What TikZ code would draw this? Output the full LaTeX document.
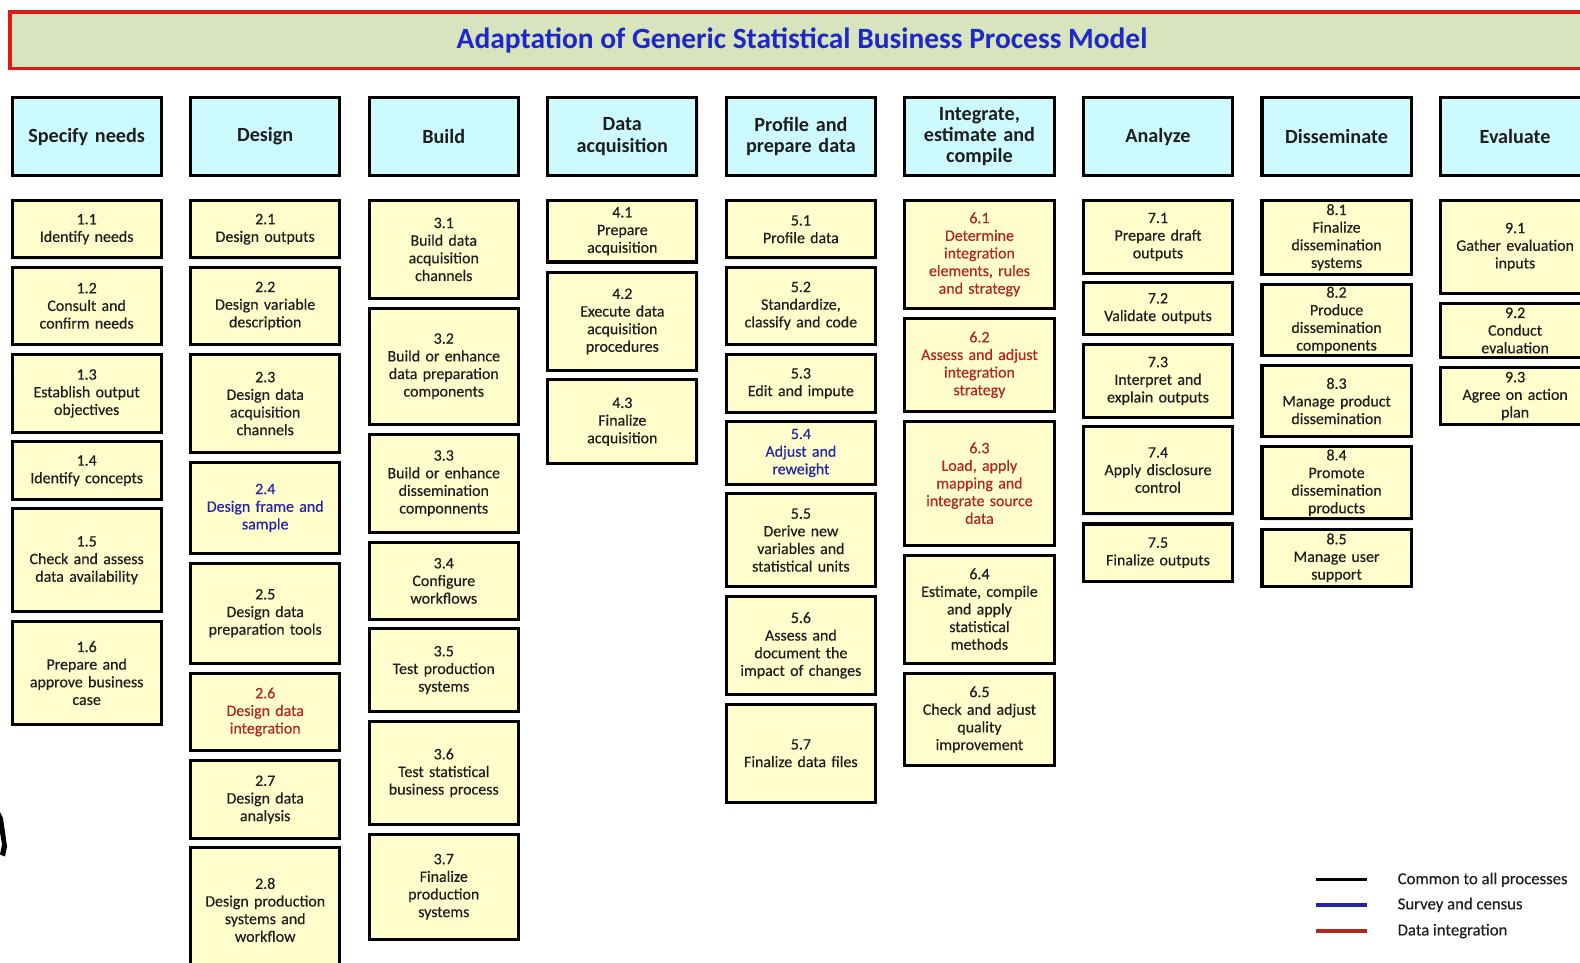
\documentclass[tikz,border=0pt]{standalone}
\usepackage{fontspec}
\setmainfont{Carlito}
\newfontfamily\procfont{Carlito}[FakeBold=0.35]
\usepackage{tikz}
\usetikzlibrary{shadows}
\usepackage{xcolor}

\definecolor{ink}{RGB}{30,30,30}
\definecolor{redtxt}{RGB}{178,38,30}
\definecolor{bluetxt}{RGB}{35,35,165}
\definecolor{titleblue}{RGB}{30,40,200}
\definecolor{titlered}{RGB}{220,25,25}
\definecolor{titlefill}{RGB}{216,228,190}
\definecolor{headfill}{RGB}{204,250,255}
\definecolor{boxfill}{RGB}{255,253,204}

\tikzset{
	phase/.style={draw=black,line width=1.5pt,fill=headfill,minimum width=74pt,minimum height=38.5pt,
		inner xsep=2pt,inner ysep=1pt,text width=68pt,align=center,
		font=\fontsize{10}{10.5}\selectfont\bfseries,text=ink,
		drop shadow={opacity=.2,shadow xshift=.8pt,shadow yshift=-.8pt}},
	proc/.style={draw=black,line width=1.5pt,fill=boxfill,minimum width=74pt,inner sep=1pt,
		text width=72pt,align=center,font=\procfont\fontsize{7.9}{8.75}\selectfont,
		drop shadow={opacity=.2,shadow xshift=.8pt,shadow yshift=-.8pt}},
	keyline/.style={line width=1.6pt},
	keytext/.style={anchor=west,font=\procfont\fontsize{8.3}{9}\selectfont,text=ink}
}

% name, column, top, bottom, text
\newcommand{\pbox}[6][ink]{%
	\node[proc,text=#1,minimum height={(#5-#4)*0.5pt}] (#2) at ({86+(#3-1)*177.2},{(#4+#5)/2}) {#6};}

\begin{document}
\begin{tikzpicture}[x=0.5pt,y=-0.5pt]
	\useasboundingbox (0,0) rectangle (1568,955);
	\clip (0,0) rectangle (1568,955);

	\node[draw=titlered,line width=1.6pt,fill=titlefill,minimum width=786pt,minimum height=28pt,
		font=\fontsize{14.6}{16}\selectfont\bfseries,text=titleblue] (title) at (796,40)
		{Adaptation of Generic Statistical Business Process Model};

	% phases
	\node[phase] (ph1) at (86,135.5) {Specify needs};
	\node[phase] (ph2) at (263.2,135.5) {Design};
	\node[phase] (ph3) at (440.4,135.5) {Build};
	\node[phase] (ph4) at (617.6,135.5) {Data\\acquisition};
	\node[phase] (ph5) at (794.8,135.5) {Profile and\\prepare data};
	\node[phase] (ph6) at (972,135.5) {Integrate,\\estimate and\\compile};
	\node[phase] (ph7) at (1149.2,135.5) {Analyze};
	\node[phase] (ph8) at (1326.4,135.5) {Disseminate};
	\node[phase] (ph9) at (1503.6,135.5) {Evaluate};

	% 1 specify needs
	\pbox{s11}{1}{199}{256}{1.1\\Identify needs}
	\pbox{s12}{1}{265}{342}{1.2\\Consult and\\confirm needs}
	\pbox{s13}{1}{352}{429}{1.3\\Establish output\\objectives}
	\pbox{s14}{1}{438}{496}{1.4\\Identify concepts}
	\pbox{s15}{1}{505}{607}{1.5\\Check and assess\\data availability}
	\pbox{s16}{1}{617}{719}{1.6\\Prepare and\\approve business\\case}

	% 2 design
	\pbox{s21}{2}{199}{256}{2.1\\Design outputs}
	\pbox{s22}{2}{265}{342}{2.2\\Design variable\\description}
	\pbox{s23}{2}{352}{449}{2.3\\Design data\\acquisition\\channels}
	\pbox[bluetxt]{s24}{2}{459}{549}{2.4\\Design frame and\\sample}
	\pbox{s25}{2}{559}{658}{2.5\\Design data\\preparation tools}
	\pbox[redtxt]{s26}{2}{668}{745}{2.6\\Design data\\integration}
	\pbox{s27}{2}{755}{832}{2.7\\Design data\\analysis}
	\pbox{s28}{2}{841}{965}{2.8\\Design production\\systems and\\workflow}

	% 3 build
	\pbox{s31}{3}{199}{296}{3.1\\Build data\\acquisition\\channels}
	\pbox{s32}{3}{306}{421}{3.2\\Build or enhance\\data preparation\\components}
	\pbox{s33}{3}{431}{528}{3.3\\Build or enhance\\dissemination\\componnents}
	\pbox{s34}{3}{538}{615}{3.4\\Configure\\workflows}
	\pbox{s35}{3}{624}{706}{3.5\\Test production\\systems}
	\pbox{s36}{3}{716}{818}{3.6\\Test statistical\\business process}
	\pbox{s37}{3}{828}{932}{3.7\\Finalize\\production\\systems}

	% 4 data acquisition
	\pbox{s41}{4}{199}{260}{4.1\\Prepare\\acquisition}
	\pbox{s42}{4}{270}{368}{4.2\\Execute data\\acquisition\\procedures}
	\pbox{s43}{4}{377}{460}{4.3\\Finalize\\acquisition}

	% 5 profile and prepare
	\pbox{s51}{5}{199}{256}{5.1\\Profile data}
	\pbox{s52}{5}{265}{342}{5.2\\Standardize,\\classify and code}
	\pbox{s53}{5}{352}{409}{5.3\\Edit and impute}
	\pbox[bluetxt]{s54}{5}{418}{481}{5.4\\Adjust and\\reweight}
	\pbox{s55}{5}{490}{582}{5.5\\Derive new\\variables and\\statistical units}
	\pbox{s56}{5}{592}{689}{5.6\\Assess and\\document the\\impact of changes}
	\pbox{s57}{5}{699}{796}{5.7\\Finalize data files}

	% 6 integrate
	\pbox[redtxt]{s61}{6}{199}{306}{6.1\\Determine\\integration\\elements, rules\\and strategy}
	\pbox[redtxt]{s62}{6}{316}{408}{6.2\\Assess and adjust\\integration\\strategy}
	\pbox[redtxt]{s63}{6}{418}{541}{6.3\\Load, apply\\mapping and\\integrate source\\data}
	\pbox{s64}{6}{551}{658}{6.4\\Estimate, compile\\and apply\\statistical\\methods}
	\pbox{s65}{6}{668}{760}{6.5\\Check and adjust\\quality\\improvement}

	% 7 analyze
	\pbox{s71}{7}{199}{271}{7.1\\Prepare draft\\outputs}
	\pbox{s72}{7}{280}{332}{7.2\\Validate outputs}
	\pbox{s73}{7}{342}{414}{7.3\\Interpret and\\explain outputs}
	\pbox{s74}{7}{423}{510}{7.4\\Apply disclosure\\control}
	\pbox{s75}{7}{520}{577}{7.5\\Finalize outputs}

	% 8 disseminate
	\pbox{s81}{8}{199}{272}{8.1\\Finalize\\dissemination\\systems}
	\pbox{s82}{8}{282}{353}{8.2\\Produce\\dissemination\\components}
	\pbox{s83}{8}{363}{433}{8.3\\Manage product\\dissemination}
	\pbox{s84}{8}{443}{515}{8.4\\Promote\\dissemination\\products}
	\pbox{s85}{8}{525}{582}{8.5\\Manage user\\support}

	% 9 evaluate
	\pbox{s91}{9}{199}{291}{9.1\\Gather evaluation\\inputs}
	\pbox{s92}{9}{301}{355}{9.2\\Conduct\\evaluation}
	\pbox{s93}{9}{365}{421}{9.3\\Agree on action\\plan}

	% legend
	\coordinate (k1a) at (1306,873); \coordinate (k1b) at (1357,873);
	\coordinate (k2a) at (1306,898); \coordinate (k2b) at (1357,898);
	\coordinate (k3a) at (1306,924); \coordinate (k3b) at (1357,924);
	\draw[keyline,black] (k1a) -- (k1b);
	\draw[keyline,bluetxt] (k2a) -- (k2b);
	\draw[keyline,redtxt] (k3a) -- (k3b);
	\node[keytext] (key1) at (1380,873) {Common to all processes};
	\node[keytext] (key2) at (1380,898) {Survey and census};
	\node[keytext] (key3) at (1380,924) {Data integration};

	% cut-off mark at the left edge
	\fill[black] (0,806) -- (3,812) -- (7,840) -- (5,850) -- (0,848) -- (2,838) -- (0,826) -- cycle;
\end{tikzpicture}
\end{document}
